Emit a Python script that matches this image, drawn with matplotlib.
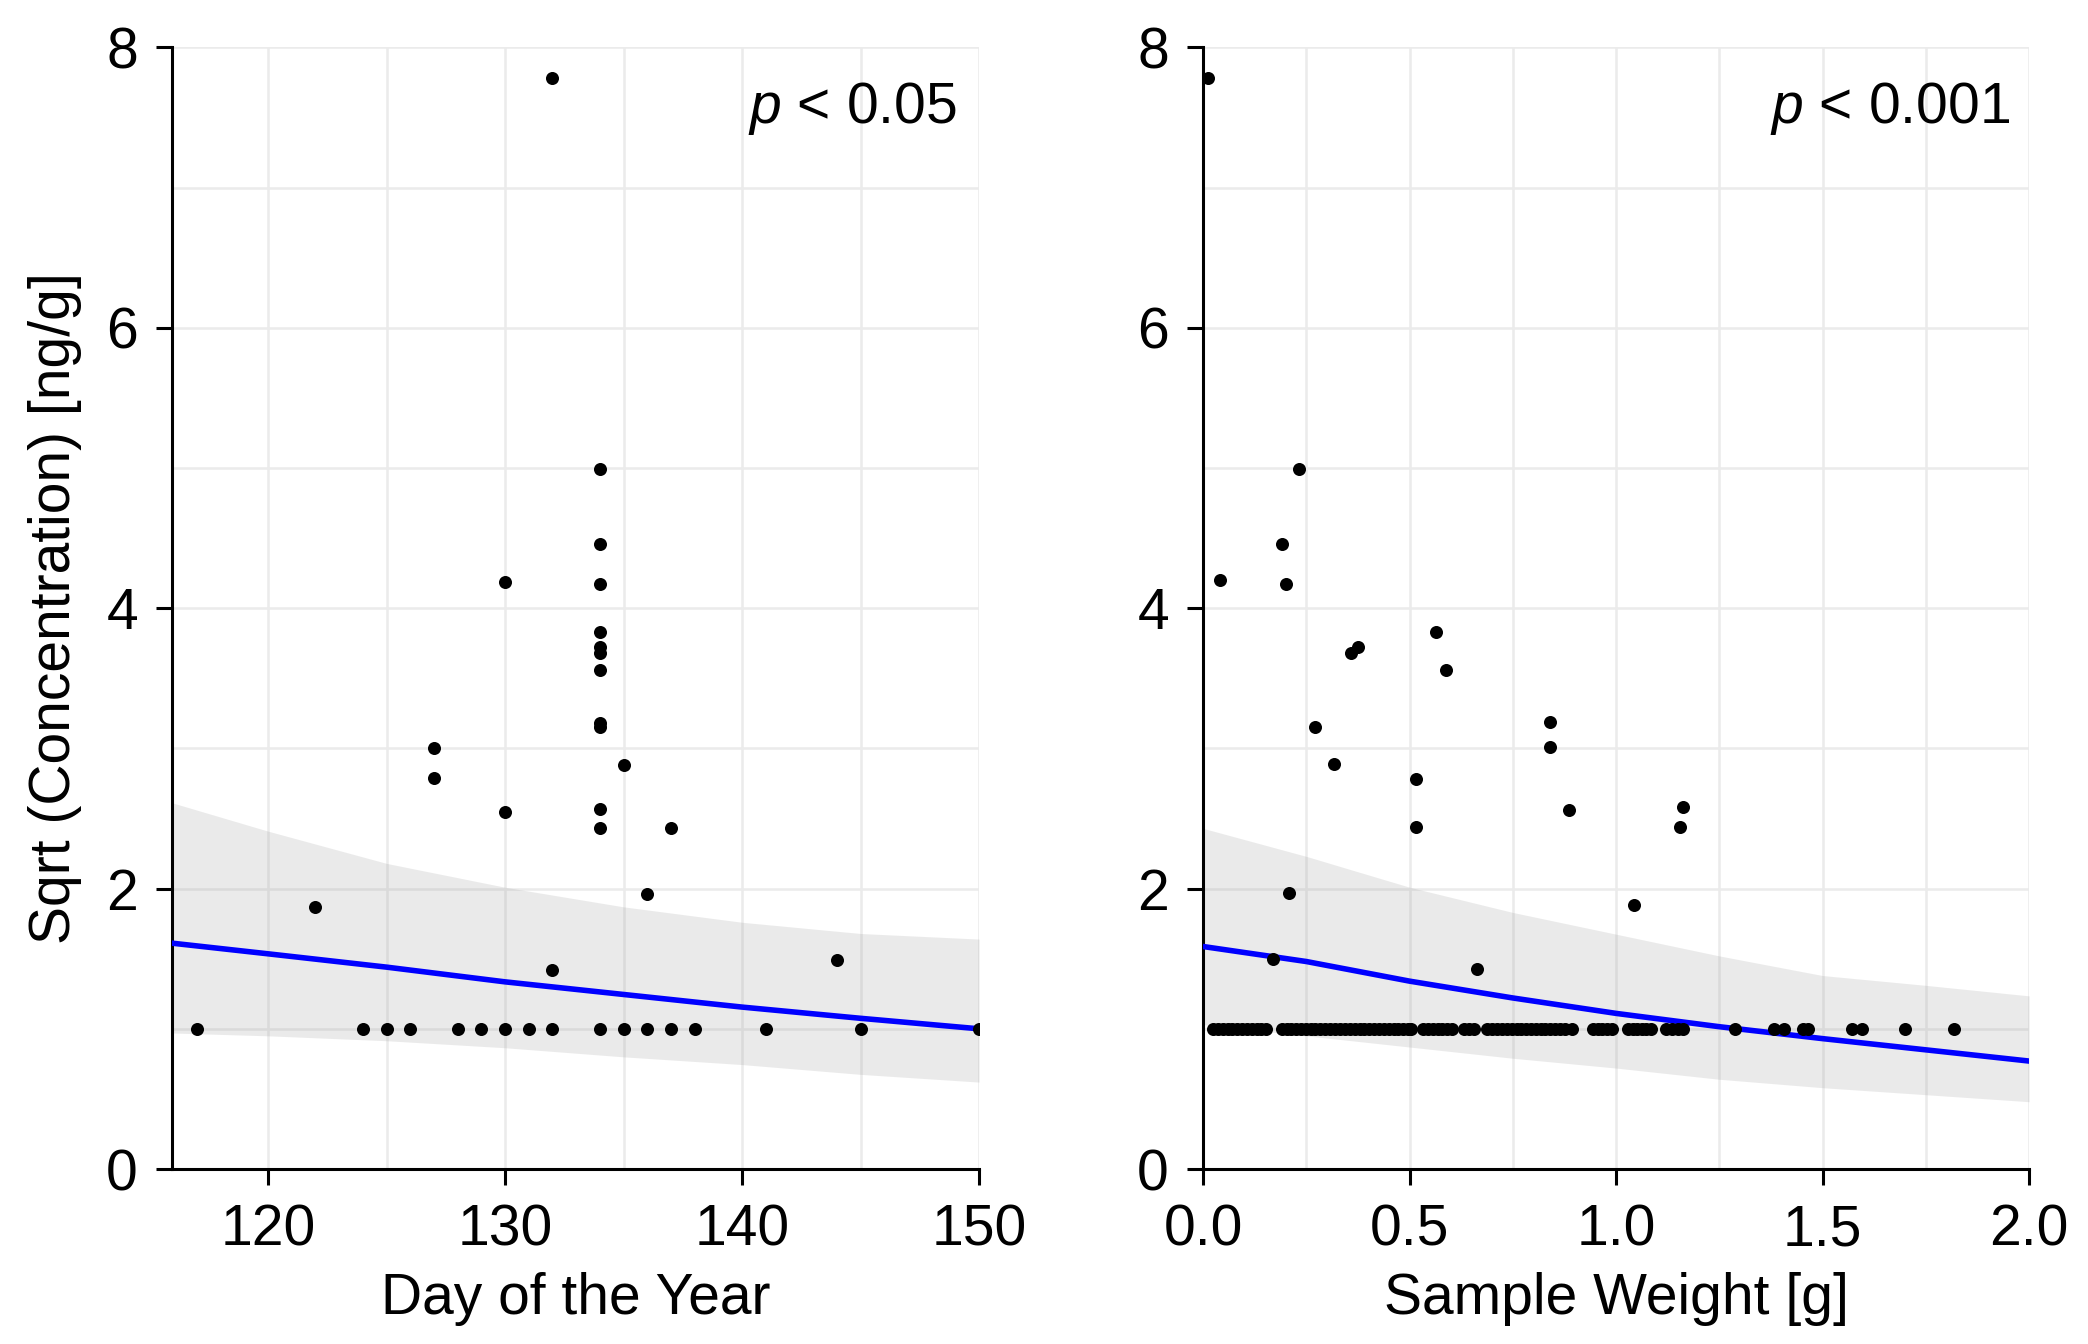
import matplotlib
matplotlib.use("Agg")
from matplotlib import pyplot as plt
from matplotlib.ticker import MultipleLocator
import numpy as np

plt.rcParams["font.family"] = ["Liberation Sans", "DejaVu Sans"]
plt.rcParams["mathtext.fontset"] = "custom"
plt.rcParams["mathtext.it"] = "Liberation Sans:italic"
plt.rcParams["mathtext.rm"] = "Liberation Sans"

# --- day of the year panel ---
day_of_year = [
    117, 124, 125, 126, 128, 129, 130, 131, 132, 134, 135, 136, 137, 138, 141, 145, 150,
    132, 134, 134, 130, 134, 134, 134, 134, 134, 134, 134, 127, 135, 127, 134, 130,
    134, 137, 136, 122, 144, 132,
]
sqrt_conc_day = [
    1.0, 1.0, 1.0, 1.0, 1.0, 1.0, 1.0, 1.0, 1.0, 1.0, 1.0, 1.0, 1.0, 1.0, 1.0, 1.0, 1.0,
    7.78, 4.99, 4.46, 4.19, 4.17, 3.83, 3.72, 3.68, 3.56, 3.18, 3.15, 3.00, 2.88, 2.79, 2.57, 2.55,
    2.43, 2.43, 1.96, 1.87, 1.49, 1.42,
]
fit_day = [116, 120, 125, 130, 135, 140, 145, 150]
fit_day_mean = [1.61, 1.535, 1.44, 1.335, 1.245, 1.155, 1.075, 1.00]
fit_day_upper = [2.61, 2.41, 2.18, 2.01, 1.87, 1.76, 1.68, 1.64]
fit_day_lower = [0.97, 0.95, 0.915, 0.865, 0.80, 0.745, 0.675, 0.62]

# --- sample weight panel ---
weight_low = [
    0.025, 0.037, 0.048, 0.060, 0.071, 0.083, 0.095, 0.106, 0.118, 0.130, 0.141, 0.153,
    0.190, 0.202, 0.213, 0.225, 0.237, 0.249, 0.261, 0.272, 0.284, 0.296, 0.308, 0.320,
    0.331, 0.343, 0.355, 0.367, 0.379, 0.390, 0.402, 0.414, 0.426, 0.438, 0.449, 0.461,
    0.473, 0.485, 0.496, 0.503,
    0.533, 0.545, 0.556, 0.568, 0.579, 0.591, 0.602,
    0.632, 0.644, 0.655,
    0.688, 0.700, 0.712, 0.723, 0.735, 0.747, 0.759, 0.770, 0.782, 0.794, 0.806, 0.817,
    0.829, 0.841, 0.853, 0.864, 0.876, 0.892,
    0.943, 0.955, 0.967, 0.979, 0.991,
    1.029, 1.040, 1.051, 1.062, 1.073, 1.084,
    1.121, 1.135, 1.149, 1.163,
    1.289, 1.382, 1.406, 1.452, 1.465, 1.572, 1.596, 1.699, 1.817,
]
weight_high = [
    0.012, 0.231, 0.191, 0.042, 0.201, 0.564, 0.374, 0.359, 0.587, 0.840, 0.271,
    0.840, 0.318, 0.516, 1.163, 0.887, 0.516, 1.155, 0.207, 1.044, 0.169, 0.664,
]
sqrt_conc_high = [
    7.78, 4.99, 4.46, 4.20, 4.17, 3.83, 3.72, 3.68, 3.56, 3.19, 3.15,
    3.01, 2.89, 2.78, 2.58, 2.56, 2.44, 2.44, 1.97, 1.88, 1.50, 1.43,
]
fit_w = [0.0, 0.25, 0.5, 0.75, 1.0, 1.25, 1.5, 1.75, 2.0]
fit_w_mean = [1.587, 1.48, 1.34, 1.22, 1.11, 1.015, 0.93, 0.85, 0.77]
fit_w_upper = [2.43, 2.23, 2.01, 1.83, 1.675, 1.52, 1.38, 1.31, 1.235]
fit_w_lower = [1.03, 0.95, 0.87, 0.79, 0.72, 0.64, 0.58, 0.53, 0.48]

weight = weight_low + weight_high
sqrt_conc_w = [1.0] * len(weight_low) + sqrt_conc_high

FS = 20.5


def style_axes(ax, xlim, xmajor, xminor):
    ax.set_xlim(*xlim)
    ax.set_ylim(0, 8)
    ax.xaxis.set_major_locator(MultipleLocator(xmajor))
    ax.xaxis.set_minor_locator(MultipleLocator(xminor))
    ax.yaxis.set_major_locator(MultipleLocator(2))
    ax.yaxis.set_minor_locator(MultipleLocator(1))
    ax.grid(True, which="both", color="#EBEBEB", linewidth=0.9)
    ax.set_axisbelow(True)
    for s in ["top", "right"]:
        ax.spines[s].set_visible(False)
    for s in ["left", "bottom"]:
        ax.spines[s].set_linewidth(1.1)
        ax.spines[s].set_color("black")
    ax.tick_params(which="major", direction="out", length=5.8, width=1.1,
                   pad=6.5, labelsize=FS, colors="black")
    ax.tick_params(which="minor", length=0)


fig = plt.figure(figsize=(10.44, 6.72), dpi=200)
ax1 = fig.add_axes([0.0824, 0.1302, 0.3865, 0.8345])
ax2 = fig.add_axes([0.5762, 0.1302, 0.3956, 0.8345])

# left panel
ax1.fill_between(fit_day, fit_day_lower, fit_day_upper, color=(0.6, 0.6, 0.6),
                 alpha=0.2, linewidth=0, zorder=2)
ax1.plot(fit_day, fit_day_mean, color="#0000FF", linewidth=2.0, zorder=3)
ax1.scatter(day_of_year, sqrt_conc_day, s=22, color="black", linewidths=0, zorder=4)
style_axes(ax1, (115.95, 150), 10, 5)
ax1.set_xlabel("Day of the Year", fontsize=FS, labelpad=5.4)
ax1.set_ylabel("Sqrt (Concentration) [ng/g]", fontsize=FS, labelpad=8.6)
ax1.text(0.972, 0.971, r"$p$ < 0.05", transform=ax1.transAxes, ha="right",
         va="top", fontsize=FS)

# right panel
ax2.fill_between(fit_w, fit_w_lower, fit_w_upper, color=(0.6, 0.6, 0.6),
                 alpha=0.2, linewidth=0, zorder=2)
ax2.plot(fit_w, fit_w_mean, color="#0000FF", linewidth=2.0, zorder=3)
ax2.scatter(weight, sqrt_conc_w, s=22, color="black", linewidths=0, zorder=4)
style_axes(ax2, (0, 2.0), 0.5, 0.25)
ax2.xaxis.set_major_formatter(plt.FuncFormatter(lambda v, p: f"{v:.1f}"))
ax2.set_xlabel("Sample Weight [g]", fontsize=FS, labelpad=5.4)
ax2.text(0.977, 0.971, r"$p$ < 0.001", transform=ax2.transAxes, ha="right",
         va="top", fontsize=FS)

fig.savefig("out.png", dpi=200)
